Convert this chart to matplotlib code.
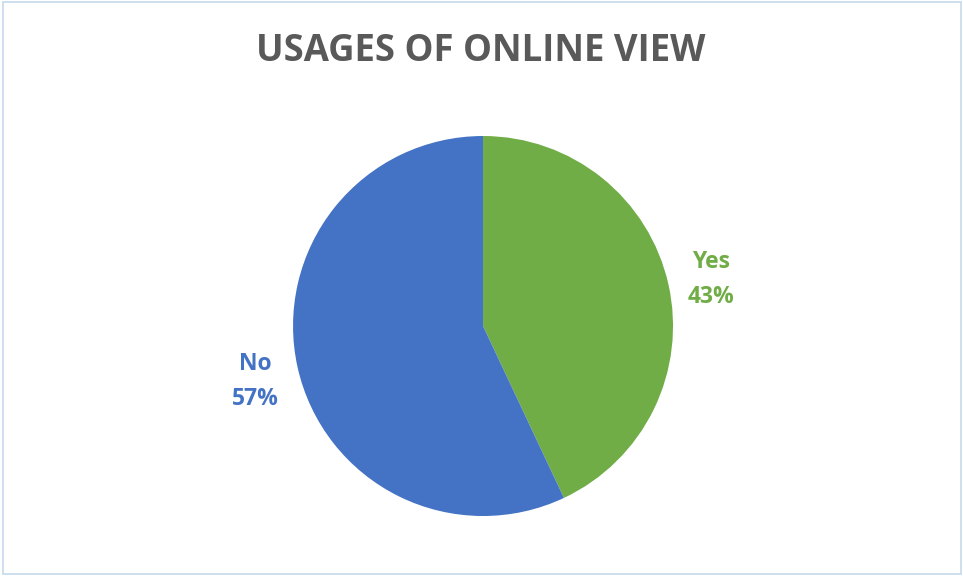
import matplotlib.pyplot as plt
from matplotlib.patches import Rectangle

categories = ["Yes", "No"]
shares = [43, 57]
colors = ["#70AD47", "#4472C4"]

plt.rcParams['font.family'] = ['Open Sans', 'DejaVu Sans']

fig = plt.figure(figsize=(9.63, 5.77), dpi=100)
fig.patch.set_facecolor("white")

# chart area border
fig.patches.append(Rectangle((0.003, 0.005), 0.995, 0.991, transform=fig.transFigure,
                             fill=False, edgecolor="#C5DAEE", linewidth=1.2))

ax = fig.add_axes([0.3043, 0.1057, 0.3946, 0.6586])
labels = [f"{c}\n{v}%" for c, v in zip(categories, shares)]
wedges, texts = ax.pie(shares, colors=colors, startangle=90, counterclock=False,
                       labels=labels, labeldistance=1.23, radius=1,
                       wedgeprops=dict(linewidth=0))
for t, c in zip(texts, colors):
    t.set_color(c)
    t.set_fontsize(16.5)
    t.set_fontweight("bold")
    t.set_ha("center")
    t.set_va("center")
    t.set_linespacing(1.6)
    # nudge labels slightly lower, like the original
    t.set_y(t.get_position()[1] - 0.022)
ax.set_xlim(-1, 1)
ax.set_ylim(-1, 1)
ax.set_aspect("equal")

fig.text(0.4995, 0.911, "USAGES OF ONLINE VIEW", ha="center", va="center",
         fontsize=26.3, fontweight="bold", color="#595959")

fig.savefig("out.png", dpi=100)
